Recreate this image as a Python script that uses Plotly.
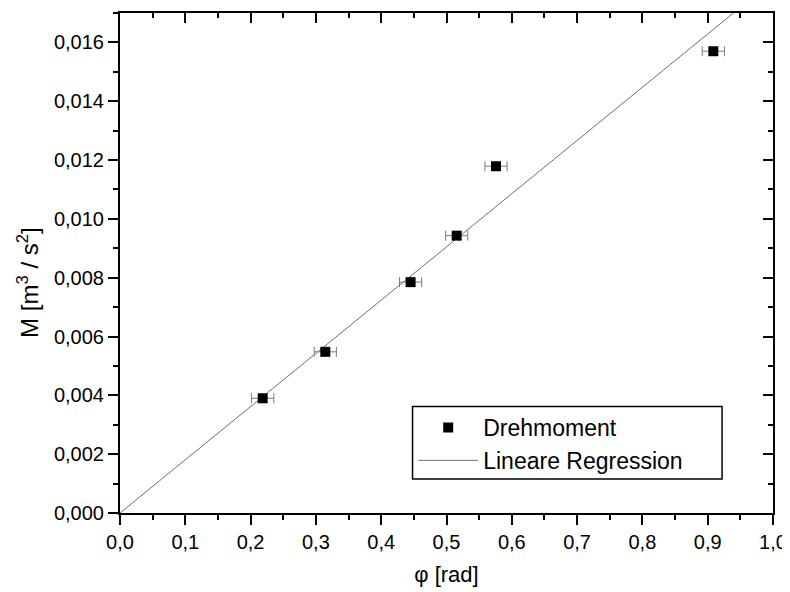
import numpy as np
import plotly.graph_objects as go

# Data
phi = [0.2185, 0.3144, 0.445, 0.5156, 0.5758, 0.9086]          # rad
moment = [0.0039, 0.00548, 0.00785, 0.00943, 0.01179, 0.0157]   # m^3/s^2
phi_err = [0.017, 0.017, 0.017, 0.017, 0.017, 0.017]

x_range = [0.0, 1.0]
y_range = [0.0, 0.017]

# Linear regression through origin
px = np.array(phi)
py = np.array(moment)
slope = float(np.sum(px * py) / np.sum(px * px))
x_fit = np.array(x_range)
y_fit = slope * x_fit

FONT = "Liberation Sans, Arial, sans-serif"

fig = go.Figure()

fig.add_trace(go.Scatter(
    x=x_fit, y=y_fit, mode="lines", name="Lineare Regression",
    line=dict(color="#6e6e6e", width=1), legendrank=2,
))
fig.add_trace(go.Scatter(
    x=phi, y=moment, mode="markers", name="Drehmoment",
    marker=dict(symbol="square", size=10, color="black"),
    error_x=dict(type="data", array=phi_err, visible=True,
                 color="#7a7a7a", thickness=1, width=5),
    legendrank=1,
))
# invisible trace for mirrored axes
fig.add_trace(go.Scatter(x=x_range, y=y_range, xaxis="x2", yaxis="y2",
                         mode="markers", marker=dict(opacity=0),
                         showlegend=False, hoverinfo="skip"))

axis_common = dict(showgrid=False, zeroline=False, linecolor="black",
                   linewidth=2, tickcolor="black", tickwidth=2, automargin=False,
                   tickfont=dict(family=FONT, size=20, color="black"))

# page body has an 8px margin, so the figure is 782x584
fig.update_layout(
    width=782, height=584,
    margin=dict(l=112, r=17, t=5, b=79, autoexpand=False),
    paper_bgcolor="white", plot_bgcolor="white",
    separators=",.",
    showlegend=True,
    legend=dict(x=0.449, y=0.214, xanchor="left", yanchor="top",
                bgcolor="rgba(0,0,0,0)", borderwidth=0,
                font=dict(family=FONT, size=23, color="black"),
                itemwidth=60, tracegroupgap=0),
    xaxis=dict(range=x_range, dtick=0.1, tick0=0, tickformat=".1f",
               ticks="outside", ticklen=10, showline=True, mirror=True,
               minor=dict(dtick=0.05, ticks="outside", ticklen=5,
                          tickcolor="black", tickwidth=2),
               title=dict(text="φ [rad]", font=dict(family=FONT, size=22, color="black"),
                          standoff=15),
               **axis_common),
    yaxis=dict(range=y_range, dtick=0.002, tick0=0, tickformat=".3f",
               ticks="outside", ticklen=10, showline=True, mirror=True,
               minor=dict(dtick=0.001, ticks="outside", ticklen=5,
                          tickcolor="black", tickwidth=2),
               **axis_common),
    xaxis2=dict(range=x_range, overlaying="x", side="top", anchor="y",
                dtick=0.1, tick0=0, ticks="inside", ticklen=10, automargin=False,
                showticklabels=False, showline=False, showgrid=False,
                zeroline=False, tickcolor="black", tickwidth=2,
                minor=dict(dtick=0.05, ticks="inside", ticklen=5,
                           tickcolor="black", tickwidth=2)),
    yaxis2=dict(range=y_range, overlaying="y", side="right", anchor="x",
                dtick=0.002, tick0=0, ticks="inside", ticklen=10, automargin=False,
                showticklabels=False, showline=False, showgrid=False,
                zeroline=False, tickcolor="black", tickwidth=2,
                minor=dict(dtick=0.001, ticks="inside", ticklen=5,
                           tickcolor="black", tickwidth=2)),
    shapes=[dict(type="rect", xref="paper", yref="paper",
                 x0=0.448, x1=0.922, y0=0.068, y1=0.213,
                 line=dict(color="black", width=1.5), fillcolor="rgba(0,0,0,0)")],
    annotations=[dict(text="M [m<sup>3</sup> / s<sup>2</sup>]",
                      xref="paper", yref="paper", x=-0.141, y=0.462,
                      xanchor="center", yanchor="middle", textangle=-90,
                      showarrow=False,
                      font=dict(family=FONT, size=24, color="black"))],
)

fig.write_html("out.html")
